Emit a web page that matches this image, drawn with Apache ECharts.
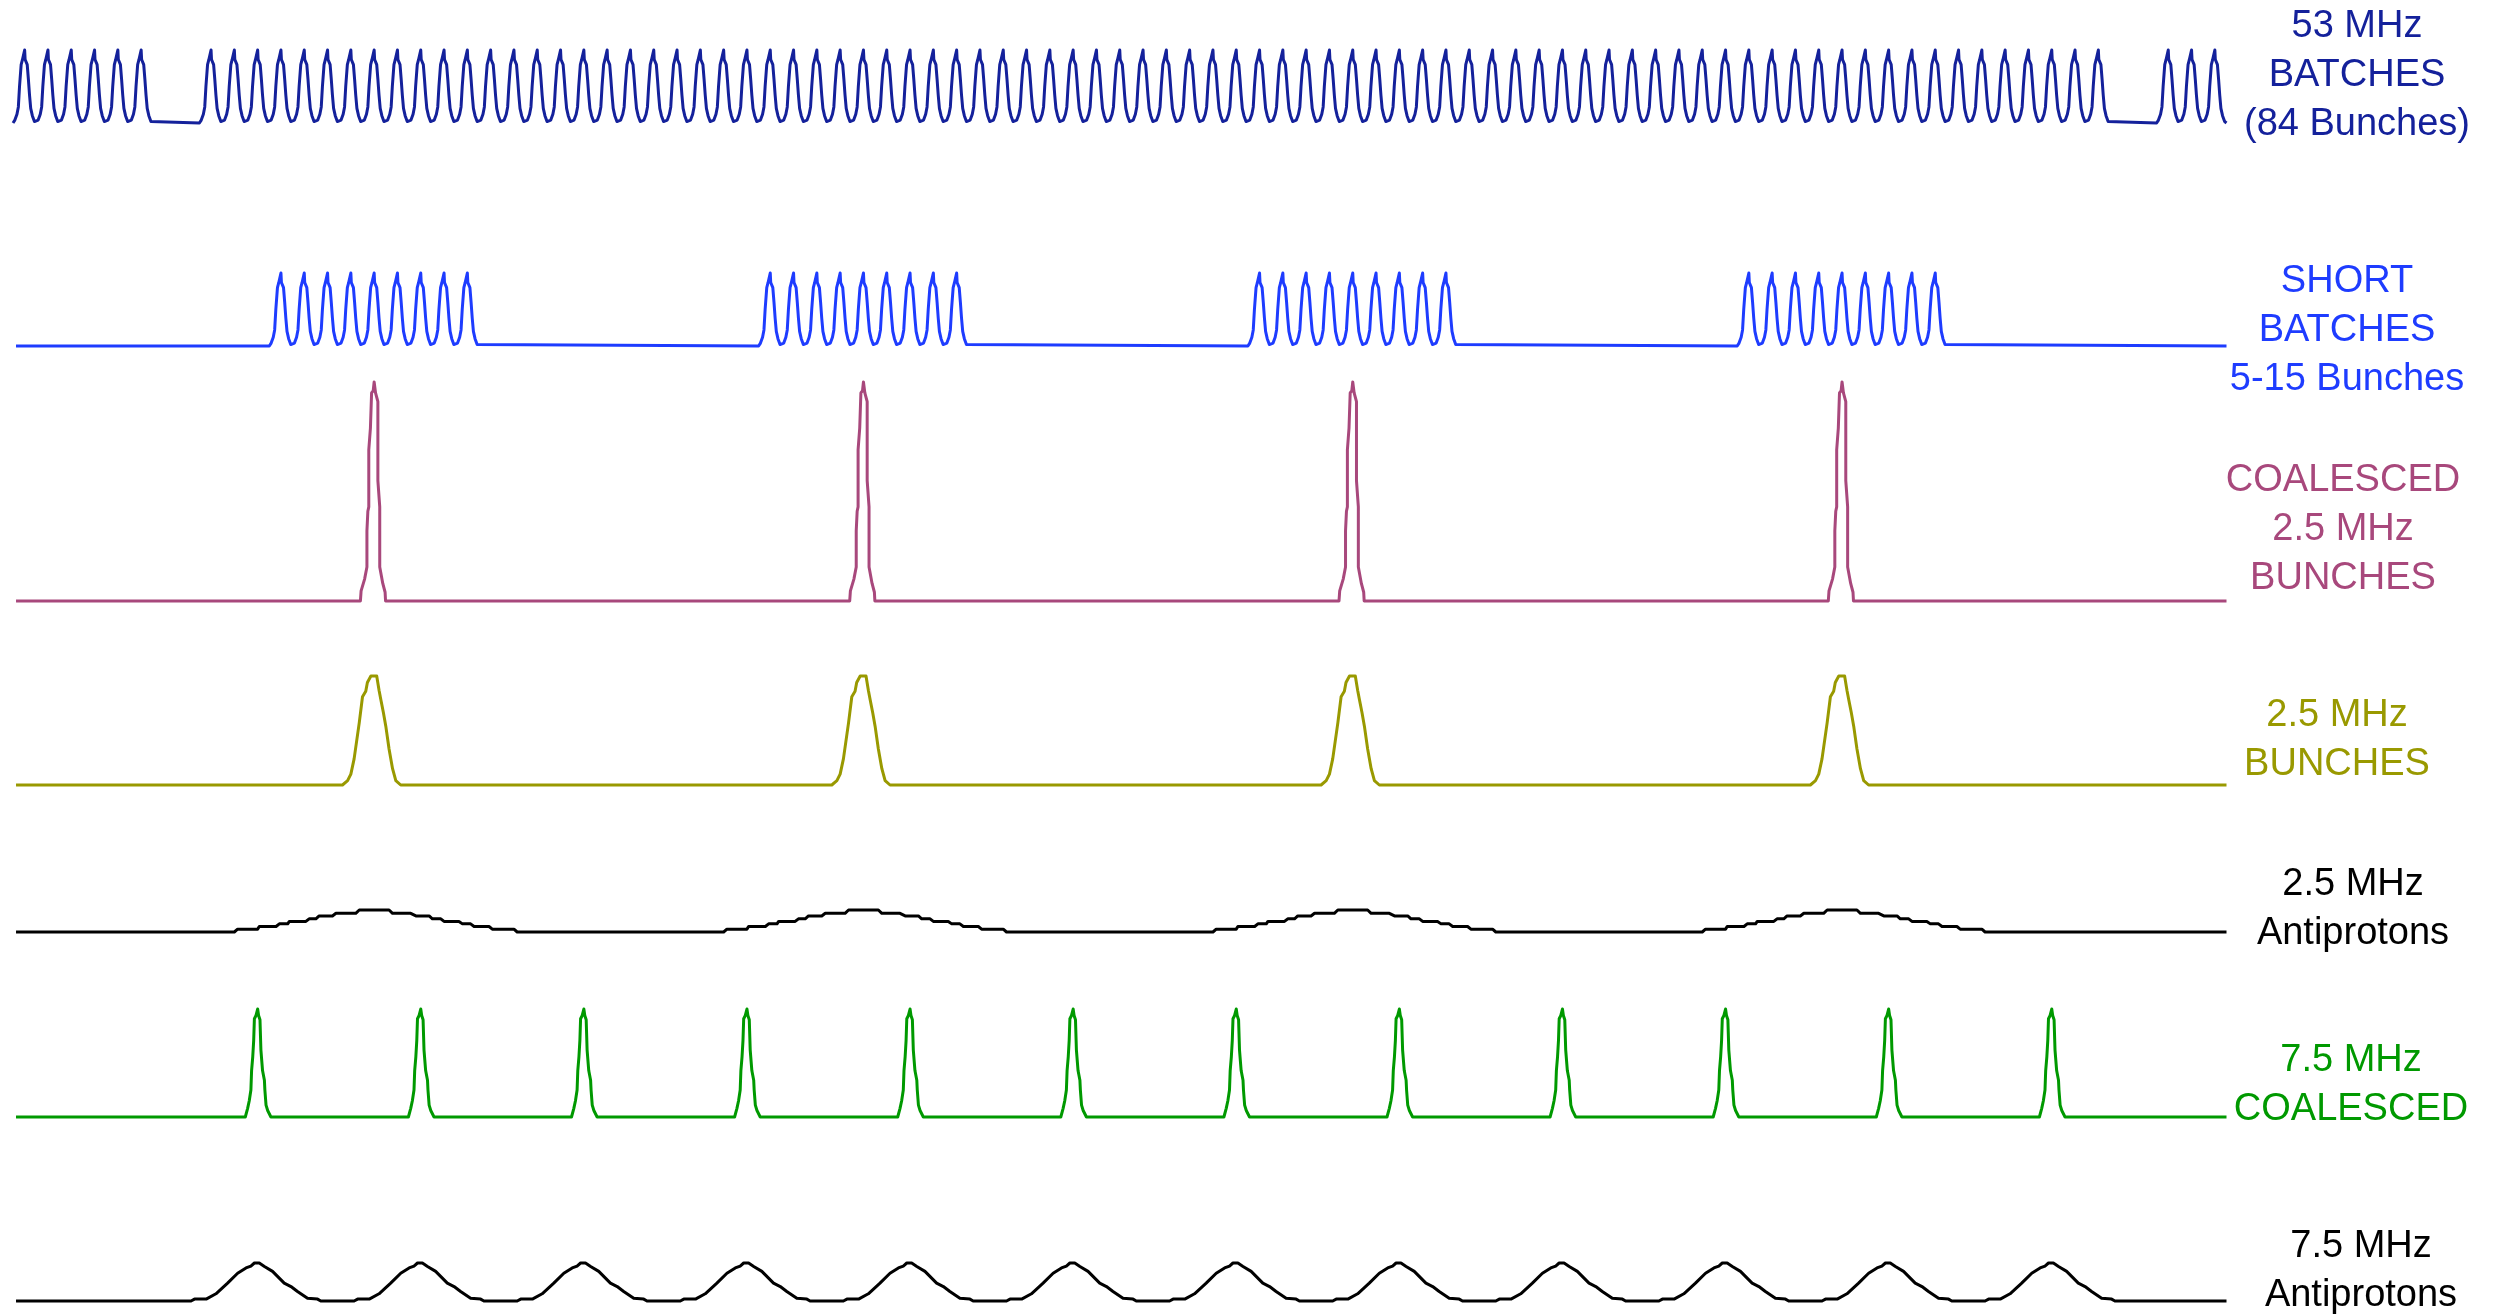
<!DOCTYPE html>
<html><head><meta charset="utf-8">
<script src="https://cdn.jsdelivr.net/npm/echarts@6/dist/echarts.min.js"></script>
<style>html,body{margin:0;padding:0;background:#fff}#c{width:2504px;height:1315px}</style>
</head><body><div id="c"></div>
<script>
// x unit: one 53 MHz RF bucket. Heights: fraction of each trace's full amplitude.
const traceStart = -0.37, traceEnd = 94.5;

// bunch positions (bucket index)
const batch53Groups = [[0,5],[8,89],[92,94]];
const shortBatchGroups = [[11,19],[32,40],[53,61],[74,82]];
const coalesced25Centers = [15,36,57,78];
const bunch25Centers = [15,36,57,78];
const anti25Centers = [15,36,57,78];
const coalesced75Centers = [10,17,24,31,38,45,52,59,66,73,80,87];
const anti75Centers = [10,17,24,31,38,45,52,59,66,73,80,87];

// single-pulse shapes [offset in buckets, relative height]
const bunch53Shape = [[-0.5,0],[-0.42,0.04],[-0.33,0.12],[-0.27,0.22],[-0.22,0.5],[-0.15,0.8],[-0.1,0.86],[-0.03,0.87],[0,1],[0.02,0.87],[0.08,0.85],[0.11,0.8],[0.16,0.6],[0.21,0.38],[0.26,0.2],[0.33,0.1],[0.42,0.02],[0.5,0]];
const coalesced25Shape = [[-0.59,0],[-0.56,0.046],[-0.41,0.1],[-0.31,0.155],[-0.31,0.32],[-0.27,0.41],[-0.23,0.43],[-0.23,0.69],[-0.16,0.79],[-0.11,0.95],[-0.04,0.96],[0,1],[0.03,1],[0.06,0.95],[0.16,0.91],[0.16,0.55],[0.24,0.43],[0.24,0.155],[0.37,0.08],[0.47,0.04],[0.49,0]];
const bunch25Shape = [[-1.36,0],[-1.14,0.04],[-1.0,0.1],[-0.86,0.24],[-0.64,0.57],[-0.5,0.81],[-0.36,0.86],[-0.29,0.94],[-0.14,1],[0.11,1],[0.21,0.87],[0.29,0.78],[0.4,0.66],[0.5,0.54],[0.64,0.33],[0.79,0.15],[0.93,0.04],[1.14,0]];
const anti25Shape = [[-6.0,0],[-5.86,0.13],[-5.0,0.13],[-4.93,0.25],[-4.21,0.25],[-4.07,0.37],[-3.71,0.37],[-3.64,0.48],[-2.93,0.48],[-2.79,0.6],[-2.5,0.6],[-2.36,0.73],[-1.79,0.73],[-1.64,0.85],[-0.79,0.85],[-0.64,1],[0.64,1],[0.79,0.85],[1.57,0.85],[1.79,0.73],[2.36,0.73],[2.5,0.6],[2.86,0.6],[3.0,0.48],[3.64,0.48],[3.79,0.37],[4.14,0.37],[4.29,0.25],[4.93,0.25],[5.07,0.13],[6.0,0.13],[6.14,0]];
const coalesced75Shape = [[-0.53,0],[-0.43,0.08],[-0.36,0.15],[-0.29,0.25],[-0.26,0.43],[-0.21,0.56],[-0.17,0.71],[-0.14,0.91],[-0.07,0.94],[0,1],[0.04,0.94],[0.1,0.9],[0.14,0.62],[0.21,0.43],[0.29,0.34],[0.31,0.25],[0.36,0.11],[0.43,0.06],[0.57,0]];
const anti75Shape = [[-2.86,0],[-2.71,0.05],[-2.21,0.05],[-1.79,0.19],[-1.29,0.47],[-0.86,0.73],[-0.5,0.87],[-0.29,0.92],[-0.14,1],[0.07,1],[0.29,0.91],[0.64,0.78],[1.14,0.47],[1.43,0.38],[1.71,0.25],[2.14,0.07],[2.57,0.05],[2.71,0]];

const traceLabels = [
  ['53 MHz','BATCHES','(84 Bunches)'],
  ['SHORT','BATCHES','5-15 Bunches'],
  ['COALESCED','2.5 MHz','BUNCHES'],
  ['2.5 MHz','BUNCHES'],
  ['2.5 MHz','Antiprotons'],
  ['7.5 MHz','COALESCED'],
  ['7.5 MHz','Antiprotons']
];

// layout & style (pixels)
const traceColors = ['#14219b','#1e3cff','#a8487c','#999900','#000000','#009900','#000000'];
const tracePeakY = [50,273,382,676,910,1009,1263];
const traceBaseY = [123,346,601,785,932,1117,1301];
const labelCenterX = [2357,2347,2343,2337,2353,2351,2361];
const labelFirstBaseline = [38,293,492,727,896,1072,1258];
const labelLineGap = 48.7;
const labelFontPx = 38;

function groupsToCenters(groups){
  const c=[]; groups.forEach(([a,b])=>{for(let k=a;k<=b;k++)c.push(k);}); return c;
}
function buildTrace(centers, shape){
  const pts=[];
  const firstX = centers[0]+shape[0][0];
  if (firstX > traceStart) pts.push([traceStart,0]);
  centers.forEach(c=>shape.forEach(([dx,h])=>pts.push([c+dx,h])));
  const lastX = pts[pts.length-1][0];
  if (lastX < traceEnd) pts.push([traceEnd,0]);
  return pts;
}

const traces = [
  buildTrace(groupsToCenters(batch53Groups), bunch53Shape),
  buildTrace(groupsToCenters(shortBatchGroups), bunch53Shape),
  buildTrace(coalesced25Centers, coalesced25Shape),
  buildTrace(bunch25Centers, bunch25Shape),
  buildTrace(anti25Centers, anti25Shape),
  buildTrace(coalesced75Centers, coalesced75Shape),
  buildTrace(anti75Centers, anti75Shape)
];

const W = 2504, H = 1315;
const bucketPx = 23.3, plotLeft = 13;
const grids=[], xAxes=[], yAxes=[], series=[];
traces.forEach((d,i)=>{
  grids.push({left:plotLeft, width:95*bucketPx, top:tracePeakY[i], height:traceBaseY[i]-tracePeakY[i], containLabel:false});
  xAxes.push({type:'value', gridIndex:i, min:-0.5, max:94.5, show:false});
  yAxes.push({type:'value', gridIndex:i, min:0, max:1, show:false});
  series.push({type:'line', xAxisIndex:i, yAxisIndex:i, data:d, showSymbol:false, symbol:'none', clip:false,
    lineStyle:{color:traceColors[i], width:3, join:'round'}, silent:true});
});

const graphics=[];
traceLabels.forEach((lines,i)=>{
  lines.forEach((t,j)=>{
    graphics.push({type:'text', x:labelCenterX[i], y:labelFirstBaseline[i]+j*labelLineGap-11,
      style:{text:t, fill:traceColors[i], font:labelFontPx+'px "Liberation Sans", Arial, sans-serif', textAlign:'center', textVerticalAlign:'middle'}});
  });
});

const chart = echarts.init(document.getElementById('c'), null, {renderer:'canvas', width:W, height:H});
chart.setOption({
  animation:false,
  backgroundColor:'#ffffff',
  grid:grids, xAxis:xAxes, yAxis:yAxes, series:series,
  graphic:graphics
});
</script></body></html>
